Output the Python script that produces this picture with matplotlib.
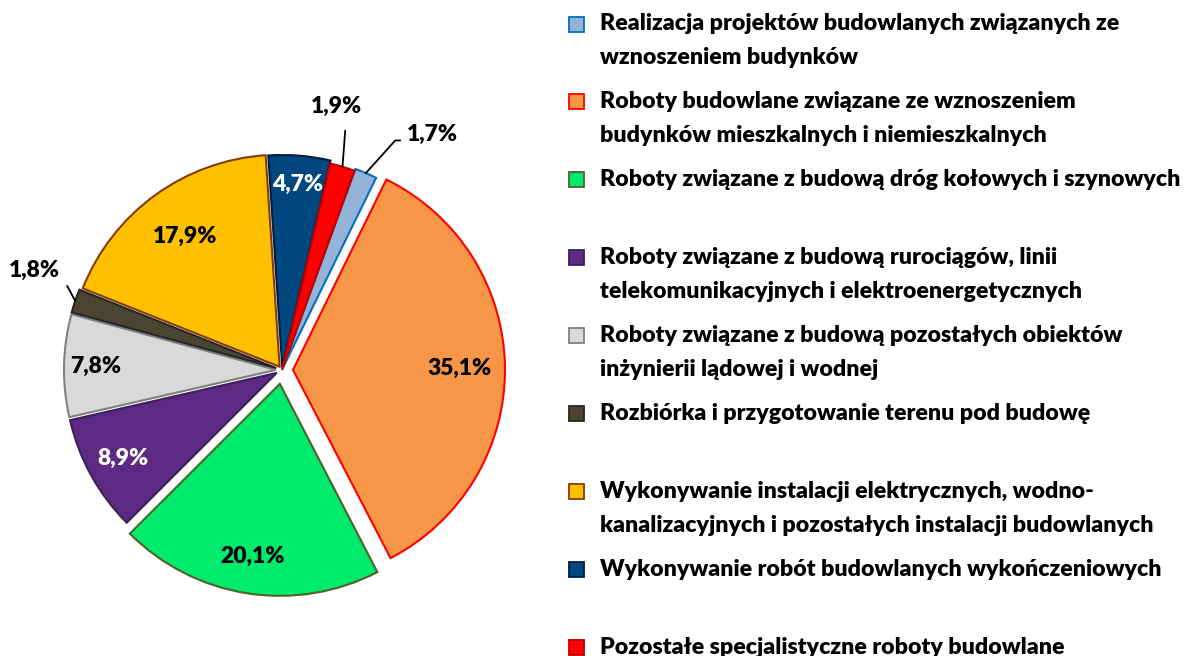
import numpy as np
import matplotlib.pyplot as plt
from matplotlib.patches import Rectangle

plt.rcParams['font.family'] = ['Lato', 'DejaVu Sans']
plt.rcParams['font.weight'] = 'heavy'

######### data ############
categories = [
    'Realizacja projektów budowlanych związanych ze\nwznoszeniem budynków',
    'Roboty budowlane związane ze wznoszeniem\nbudynków mieszkalnych i niemieszkalnych',
    'Roboty związane z budową dróg kołowych i szynowych',
    'Roboty związane z budową rurociągów, linii\ntelekomunikacyjnych i elektroenergetycznych',
    'Roboty związane z budową pozostałych obiektów\ninżynierii lądowej i wodnej',
    'Rozbiórka i przygotowanie terenu pod budowę',
    'Wykonywanie instalacji elektrycznych, wodno-\nkanalizacyjnych i pozostałych instalacji budowlanych',
    'Wykonywanie robót budowlanych wykończeniowych',
    'Pozostałe specjalistyczne roboty budowlane',
]
shares = [1.7, 35.1, 20.1, 8.9, 7.8, 1.8, 17.9, 4.7, 1.9]
###########################

fill_colors = ['#95B3D7', '#F79646', '#00EB6E', '#5C2A82', '#D9D9D9',
               '#4A4530', '#FFC000', '#00467F', '#FF0000']
edge_colors = ['#0070C0', '#FF0000', '#4F6228', '#3F1F5A', '#808080',
               '#262626', '#843C0C', '#001F3F', '#C00000']
text_colors = ['black', 'black', 'black', 'white', 'black',
               'black', 'black', 'white', 'black']
explode = [2, 11, 14, 6, 6, 6, 4, 3, 0]   # in pixels
label_r = [0.82, 0.785, 0.825, 0.83, 0.85, 0.82, 0.76, 0.865, 0.82]
# small slices labelled outside: index -> (radius factor, angle nudge)
outside = {0: (1.32, -9.5), 5: (1.26, -3.5), 8: (1.27, 5.0)}

W, H = 1184, 656
fig = plt.figure(figsize=(W / 100, H / 100), dpi=100)
ax = fig.add_axes([0, 0, 1, 1])

cx, cy, R = 282, H - 370, 212
fs = 16.5
wedges, texts, autotexts = ax.pie(
    shares, explode=explode, colors=fill_colors, startangle=70,
    counterclock=False, center=(cx, cy), radius=R, autopct='%1.1f%%',
    pctdistance=0.82, wedgeprops=dict(linewidth=1.5))

for i, (w, t) in enumerate(zip(wedges, autotexts)):
    w.set_edgecolor(edge_colors[i])
    mid = np.deg2rad((w.theta1 + w.theta2) / 2)
    t.set_text(f'{shares[i]:.1f}%'.replace('.', ','))
    t.set_position((w.center[0] + label_r[i] * R * np.cos(mid),
                    w.center[1] + label_r[i] * R * np.sin(mid)))
    t.set_color(text_colors[i])
    t.set_fontsize(fs)
    t.set_fontweight('heavy')
    if i in outside:
        t.set_visible(False)
        rf, nudge = outside[i]
        ex, ey = w.center[0] + R * np.cos(mid), w.center[1] + R * np.sin(mid)
        ta = mid + np.deg2rad(nudge)
        tx, ty = cx + rf * R * np.cos(ta), cy + rf * R * np.sin(ta)
        if i == 0:
            arrow = dict(arrowstyle='-', color='black', lw=1.3, relpos=(0, 0.2),
                         shrinkA=3, shrinkB=0,
                         connectionstyle='angle,angleA=0,angleB=48,rad=0')
        elif i == 5:
            arrow = dict(arrowstyle='-', color='black', lw=1.3, relpos=(1, 0.4),
                         shrinkA=7, shrinkB=0)
        else:
            arrow = dict(arrowstyle='-', color='black', lw=1.3, relpos=(0.7, 0),
                         shrinkA=8, shrinkB=0)
        ax.annotate(t.get_text(), xy=(ex, ey), xytext=(tx, ty),
                    ha='center', va='center', fontsize=fs, fontweight='heavy',
                    arrowprops=arrow)

# legend drawn by hand: equal step between entries
leg_x, leg_y0, step, line_h = 569, 24, 77.9, 34
for i, lab in enumerate(categories):
    y = H - (leg_y0 + i * step)
    ax.add_patch(Rectangle((leg_x, y - 7.5), 15, 15, facecolor=fill_colors[i],
                           edgecolor=edge_colors[i], lw=1.3))
    for k, line in enumerate(lab.split('\n')):
        ax.text(600, y - k * line_h, line, ha='left', va='center',
                fontsize=16.7, fontweight='heavy')

ax.set_xlim(0, W)
ax.set_ylim(0, H)
ax.set_aspect('auto')
ax.axis('off')
fig.savefig('out.png', dpi=100, facecolor='white')
